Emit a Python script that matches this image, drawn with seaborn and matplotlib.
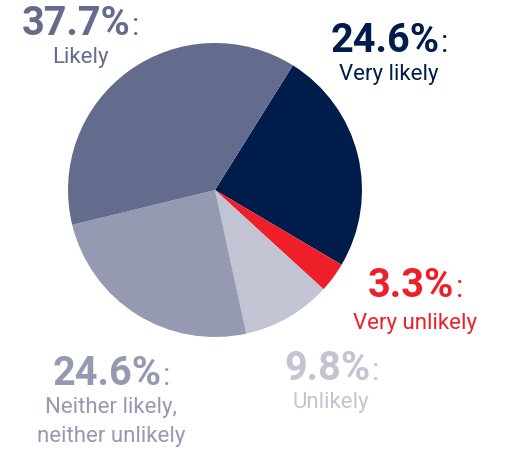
import matplotlib
matplotlib.use("Agg")
import matplotlib.pyplot as plt
import seaborn as sns

sns.set_theme(style="white")
plt.rcParams["font.family"] = ["Roboto", "DejaVu Sans"]

# Survey answers, drawn clockwise from the upper right
categories = ["Very likely", "Very unlikely", "Unlikely",
              "Neither likely,\nneither unlikely", "Likely"]
shares = [24.6, 3.3, 9.8, 24.6, 37.7]
colors = ["#001c4b", "#ee1f28", "#c2c4d4", "#9599b2", "#636c8c"]

# Label anchor: group centre x, baseline of the percentage, gap to the caption
# baseline (pixel space, y down)
label_pos = [(389, 52, 28), (415, 297, 32), (331, 380, 28),
             (111, 385, 28), (80, 35, 28)]
LINE_STEP = 29

W, H = 516, 450
fig = plt.figure(figsize=(W / 100, H / 100), dpi=100)
ax = fig.add_axes([0, 0, 1, 1])

ax.pie(shares, colors=colors, startangle=58, counterclock=False,
       center=(215, H - 190), radius=147,
       wedgeprops=dict(linewidth=0))

ax.set_xlim(0, W)
ax.set_ylim(0, H)
ax.set_aspect("equal")
ax.axis("off")

numbers = []
for cat, val, col, (cx, by, gap) in zip(categories, shares, colors, label_pos):
    num = ax.text(cx - 4, H - by, f"{val:.1f}%", color=col, fontsize=28.5,
                  fontweight="bold", ha="center", va="baseline")
    numbers.append((num, by, col))
    for i, line in enumerate(cat.split("\n")):
        ax.text(cx, H - by - gap - i * LINE_STEP, line, color=col,
                fontsize=16, ha="center", va="baseline")

# colon sits right after each bold percentage, on the same baseline
fig.canvas.draw()
renderer = fig.canvas.get_renderer()
for num, by, col in numbers:
    bb = num.get_window_extent(renderer)
    x_right = ax.transData.inverted().transform((bb.x1, bb.y0))[0]
    ax.text(x_right + 1.5, H - by, ":", color=col, fontsize=22,
            ha="left", va="baseline")

fig.savefig("out.png", dpi=100)
